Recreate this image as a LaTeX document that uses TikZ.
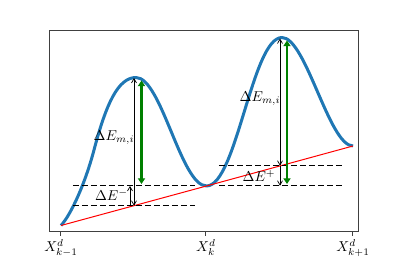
\documentclass[tikz,border=0pt]{standalone}
\usetikzlibrary{arrows.meta}

\definecolor{mplblue}{HTML}{1F77B4}
\definecolor{mplgreen}{HTML}{008000}

\begin{document}
\begin{tikzpicture}[x=0.7pt,y=-0.7pt,
  >={Straight Barb[length=3pt,width=3.5pt]},
  frame/.style={draw=black!75,line width=0.7pt},
  curve/.style={draw=mplblue,line width=2.1pt,line join=round},
  tangent/.style={draw=red,line width=0.7pt},
  level/.style={draw=black,line width=1pt,dash pattern=on 4.2pt off 2.1pt},
  gap/.style={draw=black,line width=0.5pt},
  barrier/.style={draw=mplgreen,line width=2pt,{Triangle[length=4pt,width=5pt]}-{Triangle[length=4pt,width=5pt]}},
  lab/.style={inner sep=0pt}]
\useasboundingbox (0,0) rectangle (399,266);
% axes box and ticks
\draw[frame] (50,31) rectangle (359,232);
\foreach \x/\k in {61/{k-1},206/k,353/{k+1}}{
  \draw[frame] (\x,232) -- (\x,236);
  \node[anchor=north,inner sep=0pt] (x\x) at (\x,239) {$X^d_{\k}$};
}
% points of the landscape
\coordinate (start) at (61,225.5);
\coordinate (mid) at (206.5,186);
\coordinate (stop) at (353,146);
% energy landscape
\draw[curve] (start) .. controls (71,214.5) and (85,184) .. (94,150)
  .. controls (106,104.4) and (118,77.5) .. (136,77.5)
  .. controls (161.4,77.5) and (181.1,186) .. (mid)
  .. controls (236.5,186) and (252,37.5) .. (282,37.5)
  .. controls (305.9,37.5) and (329.1,146) .. (stop);
\draw[tangent] (start) -- (mid) -- (stop);
% levels
\draw[level] (73,185.7) -- (195,185.7);
\draw[level] (73,205.7) -- (195,205.7);
\draw[level] (219,165.7) -- (343,165.7);
\draw[level] (219,185.7) -- (343,185.7);
% points used by the arrows
\coordinate (peakL) at (134,78);
\coordinate (baseL) at (134,205.7);
\coordinate (lowL) at (130,205.7);
\coordinate (upL) at (130,186);
\coordinate (peakR) at (280,38.5);
\coordinate (upR) at (280,165.7);
\coordinate (lowR) at (280,185.7);
% differences
\draw[gap,<->] (peakL) -- (baseL);
\draw[gap,->] (lowL) -- (upL);
\draw[gap,<->] (peakR) -- (upR);
\draw[gap,->] (upR) -- (lowR);
\draw[barrier] (141.5,80.5) -- (141.5,184);
\draw[barrier] (287,40.5) -- (287,184);
% labels
\node[lab] (emL) at (114,138) {$\Delta E_{m,i}$};
\node[lab] (emR) at (260,99) {$\Delta E_{m,i}$};
\node[lab] (eminus) at (111.5,195) {$\Delta E^{-}$};
\node[lab] (eplus) at (259,176) {$\Delta E^{+}$};
\end{tikzpicture}
\end{document}
